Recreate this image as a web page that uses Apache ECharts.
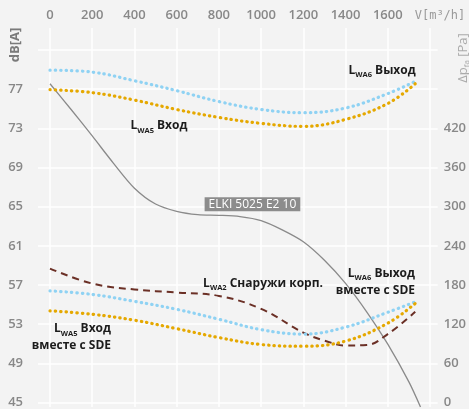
<!DOCTYPE html>
<html><head><meta charset="utf-8">
<script src="https://cdn.jsdelivr.net/npm/echarts@6/dist/echarts.min.js"></script>
<style>html,body{margin:0;padding:0;background:#f3f3f3}#c{width:469px;height:409px}</style>
</head><body><div id="c"></div>
<script>
// ---- data ----
const flowTicks = [0, 200, 400, 600, 800, 1000, 1200, 1400, 1600, 1800];
const dbTicks = [45, 49, 53, 57, 61, 65, 69, 73, 77, 81];
const paTicks = [0, 60, 120, 180, 240, 300, 360, 420, 480, 540];

const soundFlow = [0, 200, 400, 600, 800, 1000, 1200, 1400, 1600, 1730];
const lwa6Out      = [78.97, 78.77, 77.9, 76.9, 75.8, 75.0, 74.68, 75.15, 76.6, 77.84];
const lwa5In       = [77.0, 76.7, 75.95, 75.0, 74.2, 73.6, 73.3, 74.0, 75.6, 77.6];
const lwa6OutSde   = [56.71, 56.35, 55.65, 54.85, 53.85, 52.8, 52.35, 53.05, 54.55, 55.6];
const lwa5InSde    = [54.7, 54.35, 53.75, 52.9, 52.0, 51.3, 51.13, 51.65, 53.45, 55.44];

const caseFlow = [0, 200, 400, 600, 800, 1000, 1200, 1300, 1400, 1500, 1600, 1730];
const lwa2Case = [58.96, 57.45, 56.85, 56.55, 56.2, 54.9, 52.5, 51.7, 51.2, 51.25, 52.35, 54.6];

const pressFlow = [0, 100, 200, 300, 400, 500, 600, 700, 800, 900, 1000, 1100, 1200, 1300, 1400, 1500, 1600, 1700, 1755];
const pressPa   = [489, 450, 410, 369, 331, 307, 296, 291, 290, 288, 282, 268, 250, 222, 187, 144, 95, 38, 0];

const curveName = 'ELKI 5025 E2 10';

// ---- layout ----
const W = 469, H = 409;
const g1 = {left: 38, right: 26, top: 50, bottom: 2};
const g2 = {left: 50, right: 39, top: 28, bottom: 2};
const ratio = (H - g2.top - g2.bottom) / (H - g1.top - g1.bottom);
const dbMin = 45, dbMax = 81, paMax = 540;

const pairs = (xs, ys) => xs.map((x, i) => [x, ys[i]]);
const font = "'Open Sans', sans-serif";
const rich = {
  b: {fontFamily: font, fontSize: 12, fontWeight: 700, color: '#1c1c1c', lineHeight: 17},
  s: {fontFamily: font, fontSize: 7.5, fontWeight: 700, color: '#1c1c1c', lineHeight: 8, verticalAlign: 'bottom'},
  rb: {fontFamily: font, fontSize: 12, fontWeight: 700, color: '#1c1c1c', lineHeight: 17, align: 'right'},
  rs: {fontFamily: font, fontSize: 7.5, fontWeight: 700, color: '#1c1c1c', lineHeight: 8, verticalAlign: 'bottom', align: 'right'}
};
function textMark(coord, text, align) {
  return {
    symbol: 'circle', symbolSize: 0, silent: true,
    data: [{coord: coord, label: {show: true, position: 'inside', formatter: text, rich: rich, align: align || 'center', verticalAlign: 'middle'}}]
  };
}
const dotted = (color) => ({color: color, width: 3.2, type: [0.4, 5], cap: 'round'});

const chart = echarts.init(document.getElementById('c'), null, {renderer: 'canvas'});
const axisLabelStyle = {color: '#888888', fontFamily: font, fontSize: 13, fontWeight: 600};

chart.setOption({
  animation: false,
  backgroundColor: '#f3f3f3',
  grid: [
    Object.assign({}, g1, {containLabel: false}),
    Object.assign({}, g2, {containLabel: false})
  ],
  xAxis: [
    {gridIndex: 0, type: 'value', min: 0, max: 1, show: false},
    {gridIndex: 1, type: 'value', position: 'top', min: flowTicks[0], max: flowTicks[flowTicks.length - 1], interval: 200,
     axisLine: {show: false}, axisTick: {show: false},
     splitLine: {show: true, lineStyle: {color: '#ffffff', width: 1.5}},
     axisLabel: Object.assign({margin: 6, formatter: v => (v >= 1800 ? '' : String(v))}, axisLabelStyle)}
  ],
  yAxis: [
    {gridIndex: 0, type: 'value', position: 'left', min: dbMin, max: dbMax, interval: 4,
     axisLine: {show: false}, axisTick: {show: false},
     splitLine: {show: true, lineStyle: {color: '#ffffff', width: 1.5}},
     axisLabel: Object.assign({margin: 15, formatter: v => (v >= 81 ? '' : String(v))}, axisLabelStyle)},
    {gridIndex: 0, type: 'value', position: 'right', min: 0, max: paMax, interval: 60,
     axisLine: {show: false}, axisTick: {show: false}, splitLine: {show: false},
     axisLabel: Object.assign({margin: 6, formatter: v => (v >= 480 ? '' : String(v))}, axisLabelStyle)},
    {gridIndex: 1, type: 'value', min: dbMin, max: dbMin + (dbMax - dbMin) * ratio, show: false},
    {gridIndex: 1, type: 'value', min: 0, max: paMax * ratio, show: false}
  ],
  series: [
    {type: 'line', name: curveName, xAxisIndex: 1, yAxisIndex: 3, data: pairs(pressFlow, pressPa), smooth: 0.3,
     showSymbol: false, lineStyle: {color: '#8a8a8a', width: 1.3}, z: 2,
     markPoint: {symbol: 'circle', symbolSize: 0, silent: true,
       data: [{coord: [959, 306.6], label: {show: true, position: 'inside', formatter: curveName,
         backgroundColor: '#8c8c8c', color: '#ffffff', fontFamily: font, fontSize: 12, lineHeight: 14, padding: [0, 4, 0, 4]}}]}},
    {type: 'line', name: 'LWA6 out', xAxisIndex: 1, yAxisIndex: 2, data: pairs(soundFlow, lwa6Out), smooth: 0.4,
     showSymbol: false, lineStyle: dotted('#8fd2f3'), z: 3,
     markPoint: textMark([1573, 78.95], '{b|L}{s|WA6}{b| Выход}')},
    {type: 'line', name: 'LWA5 in', xAxisIndex: 1, yAxisIndex: 2, data: pairs(soundFlow, lwa5In), smooth: 0.4,
     showSymbol: false, lineStyle: dotted('#e5a800'), z: 3,
     markPoint: textMark([516, 73.33], '{b|L}{s|WA5}{b| Вход}')},
    {type: 'line', name: 'LWA2 case', xAxisIndex: 1, yAxisIndex: 2, data: pairs(caseFlow, lwa2Case), smooth: 0.4,
     showSymbol: false, lineStyle: {color: '#6b3026', width: 2, type: [7, 5]}, z: 3,
     markPoint: textMark([1009, 57.42], '{b|L}{s|WA2}{b| Снаружи корп.}')},
    {type: 'line', name: 'LWA6 out SDE', xAxisIndex: 1, yAxisIndex: 2, data: pairs(soundFlow, lwa6OutSde), smooth: 0.4,
     showSymbol: false, lineStyle: dotted('#8fd2f3'), z: 3,
     markPoint: textMark([1729, 57.57], '{rb|L}{rs|WA6}{rb| Выход}\n{rb|вместе с SDE}', 'right')},
    {type: 'line', name: 'LWA5 in SDE', xAxisIndex: 1, yAxisIndex: 2, data: pairs(soundFlow, lwa5InSde), smooth: 0.4,
     showSymbol: false, lineStyle: dotted('#e5a800'), z: 3,
     markPoint: textMark([289, 52.02], '{rb|L}{rs|WA5}{rb| Вход}\n{rb|вместе с SDE}', 'right')}
  ],
  graphic: [
    {type: 'text', x: 15, y: 45, rotation: Math.PI / 2, silent: true,
     style: {text: 'dB[A]', fill: '#7a7a7a', fontFamily: font, fontSize: 13, fontWeight: 700, align: 'center', verticalAlign: 'middle'}},
    {type: 'text', x: 463, y: 58, rotation: Math.PI / 2, silent: true,
     style: {text: '{t|Δp}{u|fa}{t| [Pa]}', fill: '#aaaaaa', align: 'center', verticalAlign: 'middle',
       rich: {t: {fontFamily: font, fontSize: 13, fill: '#aaaaaa', lineHeight: 16},
              u: {fontFamily: font, fontSize: 8, fill: '#aaaaaa', lineHeight: 9, verticalAlign: 'bottom'}}}},
    {type: 'text', x: 440, y: 16, silent: true,
     style: {text: 'V[m³/h]', fill: '#9a9a9a', fontFamily: "'DejaVu Sans Mono', monospace", fontSize: 12, align: 'center', verticalAlign: 'middle'}}
  ]
});
</script>
</body></html>
